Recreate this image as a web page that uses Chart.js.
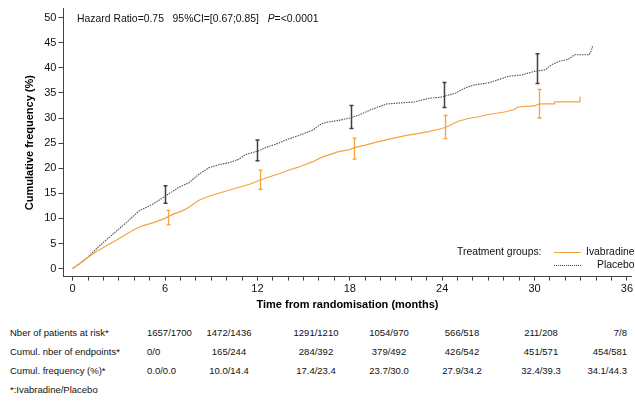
<!DOCTYPE html>
<html>
<head>
<meta charset="utf-8">
<title>Cumulative frequency</title>
<script src="https://cdn.jsdelivr.net/npm/chart.js@4.4.1/dist/chart.umd.min.js"></script>
<style>
body{margin:0;background:#fff;font-family:"Liberation Sans",Arial,sans-serif;color:#111;}
#wrap{position:relative;width:635px;height:408px;overflow:hidden;}
#chartBox{position:absolute;left:0;top:0;width:635px;height:314px;}
.txt{position:absolute;white-space:nowrap;line-height:12px;font-size:10.4px;}
.tab{position:absolute;white-space:nowrap;line-height:12px;font-size:9.5px;}
.sw{position:absolute;width:27px;height:0;}
</style>
</head>
<body>
<div id="wrap">
  <div id="chartBox"><canvas id="km"></canvas></div>
  <div class="txt" style="left:77px;top:13px;">Hazard Ratio=0.75&nbsp;&nbsp;&nbsp;95%CI=[0.67;0.85]&nbsp;&nbsp;&nbsp;<i>P</i>=&lt;0.0001</div>
  <!-- legend -->
  <div class="txt" style="left:457px;top:246px;">Treatment groups:</div>
  <div class="sw" style="left:554px;top:252px;border-top:1.3px solid #f5a340;"></div>
  <div class="txt" style="left:586px;top:246px;">Ivabradine</div>
  <div class="sw" style="left:554px;top:265px;border-top:1px dotted #444;"></div>
  <div class="txt" style="left:597px;top:259px;">Placebo</div>
  <div id="table"></div>
</div>
<script>
// placebo curve (months, cumulative %)
var placeboT=[0,0.5,0.97,1.73,2.59,3.46,4.32,5.18,6.0,6.9,7.55,8.2,8.85,9.5,10.15,10.8,11.22,12.0,12.7,13.38,14.0,14.67,15.1,15.6,16.18,16.6,17.26,18.0,18.6,19.4,20.4,21.3,22.2,23.1,24.0,24.9,25.5,26.1,27.0,27.6,28.3,29.2,30.0,30.7,31.1,31.7,32.2,32.6,33.55,33.7,33.77];
var placeboV=[0,1.1,2.2,4.5,6.8,9.1,11.5,12.8,14.4,16.2,17.1,18.8,20.1,20.7,21.1,21.8,22.7,23.4,24.3,25.0,25.8,26.5,27.0,27.6,28.9,29.2,29.5,30.0,30.6,31.7,32.8,33.0,33.2,33.9,34.2,35.0,36.0,36.6,37.0,37.6,38.3,38.6,39.3,39.6,40.6,41.4,41.7,42.6,42.6,43.5,44.3];
// ivabradine curve
var ivabT=[0,0.5,0.97,1.5,2.16,2.8,3.46,4.0,4.53,5.2,6.0,6.5,7.12,7.55,8.2,8.85,9.7,10.15,10.8,11.5,12.0,12.6,13.4,14.0,14.67,15.6,16.2,16.6,17.26,18.0,18.3,19.0,19.85,20.7,21.6,22.4,23.1,24.0,24.5,25.0,25.7,26.3,27.0,28.05,28.7,28.9,30.0,30.3,31.3,31.3,32.9,32.95,33.0];
var ivabV=[0,1.1,2.2,3.3,4.5,5.6,6.8,7.8,8.5,9.1,10.0,10.8,11.5,12.2,13.6,14.4,15.2,15.6,16.2,16.8,17.4,18.1,18.9,19.6,20.2,21.3,22.2,22.6,23.3,23.7,24.1,24.6,25.3,25.9,26.5,26.9,27.3,27.9,28.5,29.3,29.9,30.2,30.7,31.2,31.7,32.2,32.4,32.8,32.8,33.2,33.2,34.1,34.1];
// 95% CI bars
var placeboErrT=[6,12,18.05,24.1,30.15];
var placeboLo=[13.0,21.5,27.9,32.1,36.9];
var placeboHi=[16.5,25.6,32.5,37.1,42.8];
var ivabErrT=[6.2,12.2,18.3,24.2,30.3];
var ivabLo=[8.7,15.8,21.8,25.9,30.0];
var ivabHi=[11.6,19.6,26.0,30.5,35.7];
// axes
var xLabels=[0,6,12,18,24,30,36];
var yLabels=[0,5,10,15,20,25,30,35,40,45,50];
// risk table
var tableRows=['Nber of patients at risk*','Cumul. nber of endpoints*','Cumul. frequency (%)*'];
var atRisk=['1657/1700','1472/1436','1291/1210','1054/970','566/518','211/208','7/8'];
var endpoints=['0/0','165/244','284/392','379/492','426/542','451/571','454/581'];
var cumFreq=['0.0/0.0','10.0/14.4','17.4/23.4','23.7/30.0','27.9/34.2','32.4/39.3','34.1/44.3'];

var ORANGE='#f5a340', GREY='#505050', F='"Liberation Sans", Arial, sans-serif';

function pts(t,v){var a=[];for(var i=0;i<t.length;i++)a.push({x:t[i],y:v[i]});return a;}
var months=[];for(var m=0;m<=36;m++)months.push(m);

var errorBars={id:'errorBars',afterDatasetsDraw:function(chart){
  var ctx=chart.ctx,xs=chart.scales.x,ys=chart.scales.y;
  function draw(ts,lo,hi,col,w){
    ctx.save();ctx.strokeStyle=col;ctx.lineWidth=w;
    for(var i=0;i<ts.length;i++){
      var px=Math.round(xs.getPixelForValue(ts[i]))+0.5;
      var y1=ys.getPixelForValue(lo[i]),y2=ys.getPixelForValue(hi[i]);
      ctx.beginPath();
      ctx.moveTo(px,y1);ctx.lineTo(px,y2);
      ctx.moveTo(px-2,y1);ctx.lineTo(px+2,y1);
      ctx.moveTo(px-2,y2);ctx.lineTo(px+2,y2);
      ctx.stroke();
    }
    ctx.restore();
  }
  draw(ivabErrT,ivabLo,ivabHi,ORANGE,1.3);
  draw(placeboErrT,placeboLo,placeboHi,'#404040',1.5);
}};

new Chart(document.getElementById('km'),{
  type:'line',
  data:{datasets:[
    {label:'Ivabradine',data:pts(ivabT,ivabV),borderColor:ORANGE,borderWidth:1.2,pointRadius:0,tension:0,fill:false},
    {label:'Placebo',data:pts(placeboT,placeboV),borderColor:GREY,borderWidth:1.1,borderDash:[1.5,1],pointRadius:0,tension:0,fill:false}
  ]},
  options:{
    responsive:true,maintainAspectRatio:false,animation:false,devicePixelRatio:1,
    layout:{padding:{left:23,top:7,right:0,bottom:0}},
    plugins:{legend:{display:false},tooltip:{enabled:false}},
    scales:{
      x:{type:'linear',min:-0.6,max:36.3,
        afterBuildTicks:function(s){s.ticks=months.map(function(v){return {value:v};});},
        ticks:{autoSkip:false,maxRotation:0,padding:2,color:'#111',font:{size:11,family:F},
          callback:function(v){return xLabels.indexOf(v)>=0?String(v):'';}},
        grid:{drawOnChartArea:false,drawTicks:true,tickLength:4,color:'#444'},
        border:{display:true,color:'#444',width:1},
        title:{display:true,text:'Time from randomisation (months)',color:'#000',font:{size:11,weight:'bold',family:F},padding:{top:1,bottom:2}}
      },
      y:{type:'linear',min:-1.6,max:51.8,
        afterBuildTicks:function(s){s.ticks=yLabels.map(function(v){return {value:v};});},
        ticks:{padding:2,color:'#111',font:{size:11,family:F}},
        grid:{drawOnChartArea:false,drawTicks:true,tickLength:5,color:'#444'},
        border:{display:true,color:'#444',width:1},
        title:{display:true,text:'Cumulative frequency (%)',color:'#000',font:{size:11,weight:'bold',family:F},padding:{top:0,bottom:6}}
      }
    }
  },
  plugins:[errorBars]
});

// risk table below the plot
var tbl=document.getElementById('table');
var rowY=[327,346,365];
var colX=[147,229,316,389,462,541,627];
var rowsData=[atRisk,endpoints,cumFreq];
function cell(txt,x,y,align){
  var d=document.createElement('div');d.className='tab';d.textContent=txt;
  d.style.top=y+'px';
  if(align==='c'){d.style.left=x+'px';d.style.transform='translateX(-50%)';}
  else if(align==='r'){d.style.right=(635-x)+'px';}
  else d.style.left=x+'px';
  tbl.appendChild(d);
}
for(var r=0;r<3;r++){
  cell(tableRows[r],10,rowY[r],'l');
  for(var c=0;c<7;c++){
    cell(rowsData[r][c],colX[c],rowY[r],c===0?'l':(c===6?'r':'c'));
  }
}
cell('*:Ivabradine/Placebo',10,384,'l');
</script>
</body>
</html>
